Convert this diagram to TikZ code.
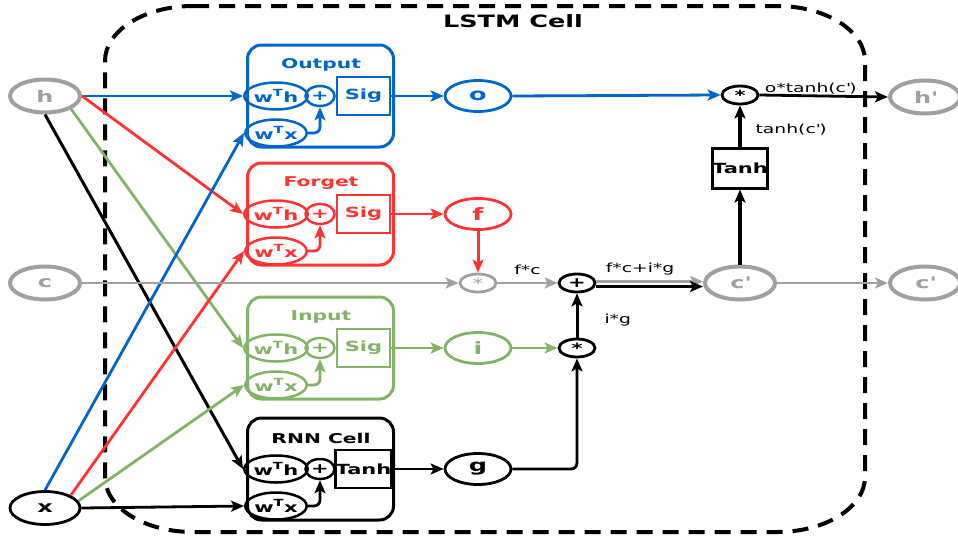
\documentclass[tikz,border=0pt]{standalone}
\usepackage{fontspec}
\setmainfont{DejaVu Sans}[FakeStretch=1.5]
\usetikzlibrary{shapes.geometric,arrows.meta}
\definecolor{outblue}{HTML}{0066CC}
\definecolor{forgetred}{HTML}{FF3333}
\definecolor{inputgreen}{HTML}{82B366}
\definecolor{stategray}{HTML}{A0A0A0}
\begin{document}
\begin{tikzpicture}[x=1pt,y=-1pt,
    every node/.style={inner sep=0pt},
    state/.style={ellipse,draw=stategray,text=stategray,line width=4pt,minimum width=70pt,minimum height=33pt,font=\fontsize{16}{18}\selectfont\bfseries},
    inputx/.style={state,draw=black,text=black,line width=2.8pt},
    outcol/.style={draw=outblue,text=outblue},
    forgetcol/.style={draw=forgetred,text=forgetred},
    inputcol/.style={draw=inputgreen,text=inputgreen},
    rnncol/.style={draw=black,text=black},
    gatebox/.style={rectangle,rounded corners=14pt,line width=3pt,minimum width=146pt,minimum height=102pt},
    gatetitle/.style={font=\fontsize{13.5}{15}\selectfont\bfseries},
    weight/.style={ellipse,line width=2.5pt,minimum width=55pt,minimum height=27pt,font=\fontsize{14}{16}\selectfont\bfseries},
    plus/.style={ellipse,line width=2.5pt,minimum width=29pt,minimum height=20pt,font=\fontsize{14}{16}\selectfont\bfseries},
    act/.style={rectangle,line width=2.5pt,minimum width=53pt,minimum height=38pt,font=\fontsize{14}{16}\selectfont\bfseries},
    gateout/.style={ellipse,line width=2.8pt,minimum width=66pt,minimum height=31pt,font=\fontsize{17}{19}\selectfont\bfseries},
    op/.style={ellipse,draw,line width=2.8pt,minimum width=36pt,minimum height=18pt,font=\fontsize{14}{16}\selectfont\bfseries},
    link/.style={line width=2.8pt,-{Stealth[length=13pt,width=11pt,inset=3pt]}},
    lbl/.style={font=\fontsize{12.5}{14}\selectfont},
    cellborder/.style={line width=4pt,dash pattern=on 16pt off 10pt}]
  \useasboundingbox (0,0) rectangle (958,536);
  % LSTM cell border
  \draw[cellborder] (193,6) -- (777,6) arc[start angle=90,end angle=0,x radius=88pt,y radius=55pt]
    -- (865,477) arc[start angle=0,end angle=-90,x radius=88pt,y radius=55pt]
    -- (193,532) arc[start angle=270,end angle=180,x radius=88pt,y radius=55pt]
    -- (105,61) arc[start angle=180,end angle=90,x radius=88pt,y radius=55pt] -- cycle;
  \node[font=\fontsize{17}{19}\selectfont\bfseries] (title) at (513,21) {LSTM Cell};
  % Inputs and outputs
  \node[state] (h) at (45,96) {h};
  \node[state] (c) at (45,283) {c};
  \node[inputx] (x) at (45,508) {x};
  \node[state] (hp) at (925,97) {h\textquotesingle};
  \node[state] (cp) at (925,283) {c\textquotesingle};
  \node[state] (cn) at (740,283) {c\textquotesingle};
  % Output gate
  \node[gatebox,draw=outblue] (ogate) at (320.5,96) {};
  \node[gatetitle,text=outblue] (otitle) at (321,65) {Output};
  \node[weight,outcol] (oth) at (276,96) {w\textsuperscript{T}h};
  \node[plus,outcol] (oplus) at (320,96) {+};
  \node[act,outcol] (osig) at (363.5,96) {Sig};
  \node[weight,outcol] (otx) at (276,133) {w\textsuperscript{T}x};
  \node[gateout,outcol] (o) at (478,96) {o};
  % Forget gate
  \node[gatebox,draw=forgetred] (fgate) at (320.5,214) {};
  \node[gatetitle,text=forgetred] (ftitle) at (321,183) {Forget};
  \node[weight,forgetcol] (fth) at (276,214) {w\textsuperscript{T}h};
  \node[plus,forgetcol] (fplus) at (320,214) {+};
  \node[act,forgetcol] (fsig) at (363.5,214) {Sig};
  \node[weight,forgetcol] (ftx) at (276,251) {w\textsuperscript{T}x};
  \node[gateout,forgetcol] (f) at (478,214) {f};
  % Input gate
  \node[gatebox,draw=inputgreen] (igate) at (320.5,348) {};
  \node[gatetitle,text=inputgreen] (ititle) at (321,317) {Input};
  \node[weight,inputcol] (ith) at (276,348) {w\textsuperscript{T}h};
  \node[plus,inputcol] (iplus) at (320,348) {+};
  \node[act,inputcol] (isig) at (363.5,348) {Sig};
  \node[weight,inputcol] (itx) at (276,385) {w\textsuperscript{T}x};
  \node[gateout,inputcol] (i) at (478,348) {i};
  % RNN cell
  \node[gatebox,draw=black] (rgate) at (320.5,469) {};
  \node[gatetitle] (rtitle) at (321,438) {RNN Cell};
  \node[weight,rnncol] (rth) at (276,469) {w\textsuperscript{T}h};
  \node[plus,rnncol] (rplus) at (320,469) {+};
  \node[act,rnncol] (rtanh) at (363.5,469) {Tanh};
  \node[weight,rnncol] (rtx) at (276,506) {w\textsuperscript{T}x};
  \node[gateout,rnncol] (g) at (478,469) {g};
  % Cell state operations
  \node[op,draw=stategray,text=stategray,font=\fontsize{14}{16}\selectfont] (fmul) at (478,283) {*};
  \node[op] (add) at (577,283) {+};
  \node[op] (imul) at (577,348) {*};
  \node[act,rnncol,line width=3pt,minimum height=40pt] (tanh) at (740,168) {Tanh};
  \node[op] (omul) at (740,95) {*};
  % From h
  \draw[link,outblue] (h.east) -- (oth.west);
  \draw[link,forgetred] (h.east) -- (fth.west);
  \draw[link,inputgreen] (h.south east) -- (ith.west);
  \draw[link,line width=3pt] (h.south) -- (rth.west);
  % From x
  \draw[link,outblue] (x.north) -- (otx.west);
  \draw[link,forgetred] (x.north east) -- (ftx.west);
  \draw[link,inputgreen] (x.12) -- (itx.west);
  \draw[link] (x.east) -- (rtx.west);
  % Inside the gates
  \draw[link,outblue,rounded corners=6pt] (otx.east) -| (oplus.south);
  \draw[link,forgetred,rounded corners=6pt] (ftx.east) -| (fplus.south);
  \draw[link,inputgreen,rounded corners=6pt] (itx.east) -| (iplus.south);
  \draw[link,rounded corners=6pt] (rtx.east) -| (rplus.south);
  \draw[link,outblue] (osig.east) -- (o.west);
  \draw[link,forgetred] (fsig.east) -- (f.west);
  \draw[link,inputgreen] (isig.east) -- (i.west);
  \draw[link] (rtanh.east) -- (g.west);
  % Cell state
  \draw[link,stategray,line width=2.2pt] (c.east) -- (fmul.west);
  \draw[link,forgetred,line width=3pt] (f.south) -- (fmul.north);
  \draw[link,stategray,line width=2.2pt] (fmul.east) -- node[lbl,text=black,above=7pt] (fclbl) {f*c} (add.west);
  \draw[link,stategray,line width=2.2pt] ([yshift=1.5pt]add.east) -- node[lbl,text=black,above=5pt,pos=0.41] (sumlbl) {f*c+i*g} ([yshift=1.5pt]cn.west);
  \draw[link] ([yshift=-3.5pt]add.east) -- ([yshift=-3.5pt]cn.west);
  \draw[link,inputgreen] (i.east) -- (imul.west);
  \draw[link,rounded corners=6pt] (g.east) -| (imul.south);
  \draw[link,line width=3pt] (imul.north) -- node[lbl,right=26pt,pos=0.4] (iglbl) {i*g} (add.south);
  \draw[link,stategray,line width=2.2pt] (cn.east) -- (cp.west);
  % Hidden state
  \draw[link,line width=3.2pt] (cn.north) -- (tanh.south);
  \draw[link,line width=3.2pt] (tanh.north) -- node[lbl,right=14pt,pos=0.4] (tanhlbl) {tanh(c\textquotesingle)} (omul.south);
  \draw[link,outblue] (o.east) -- (omul.west);
  \draw[link] (omul.east) -- node[lbl,above=0pt,pos=0.4] (hlbl) {o*tanh(c\textquotesingle)} (hp.west);
\end{tikzpicture}
\end{document}
